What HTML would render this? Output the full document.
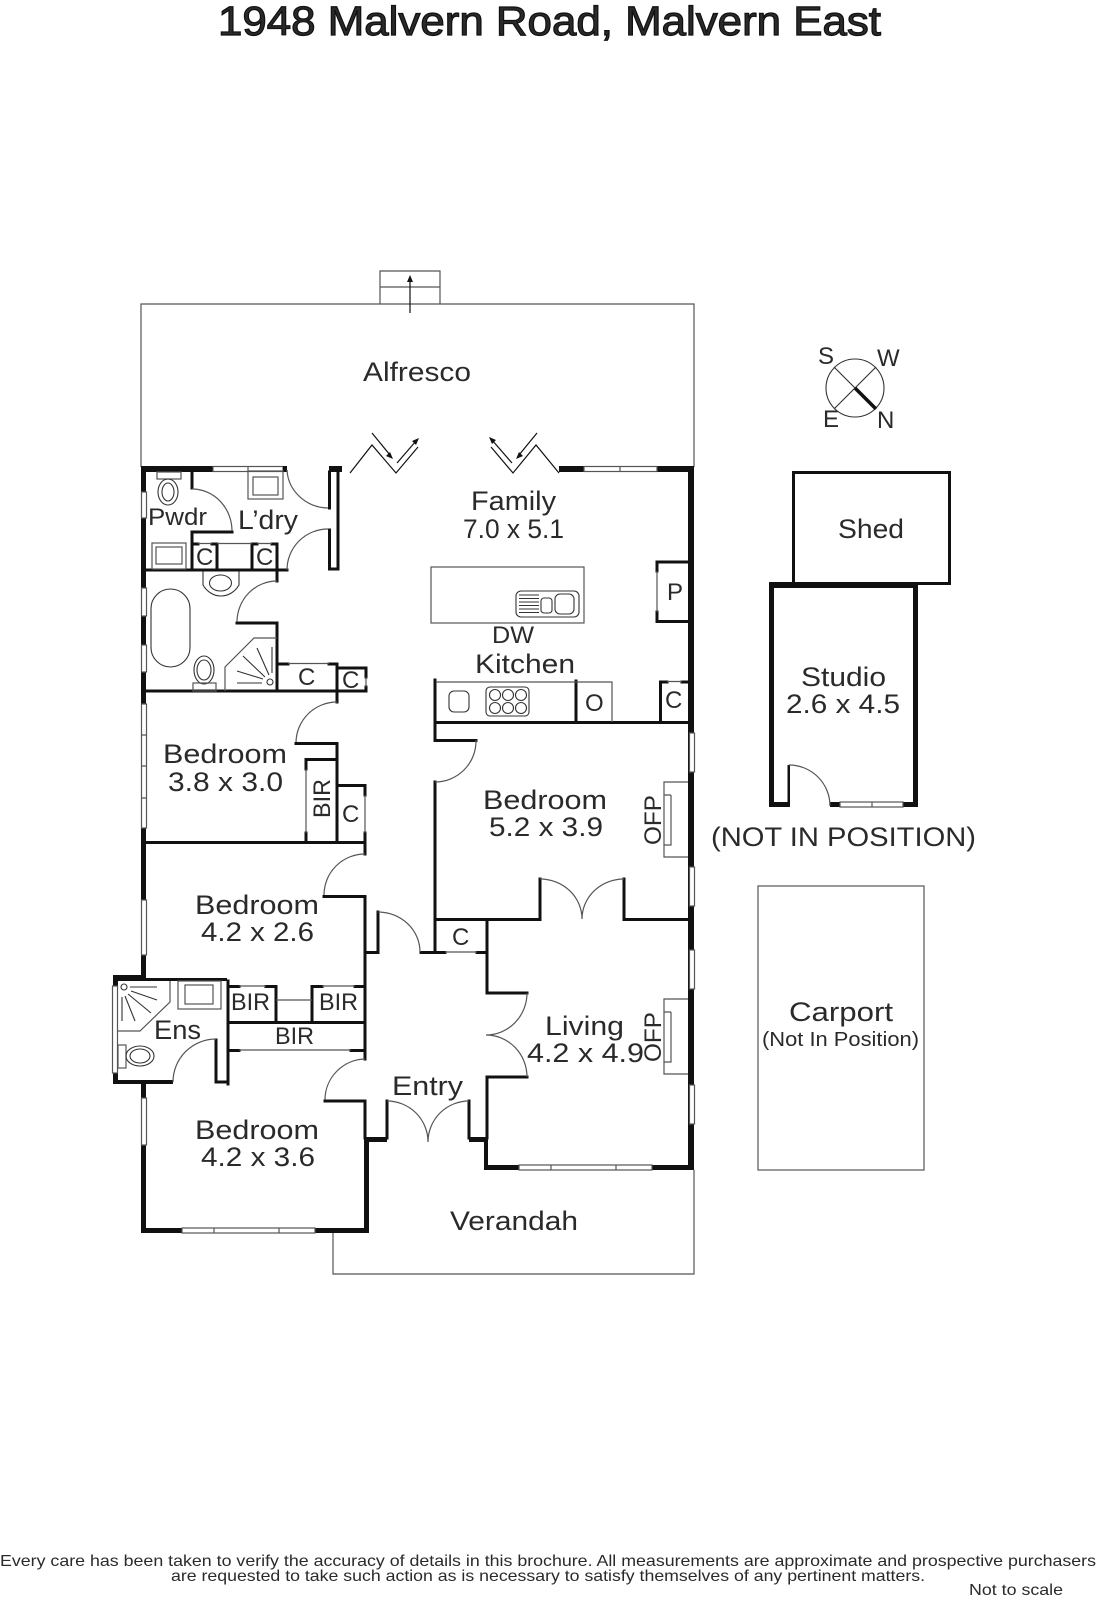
<!DOCTYPE html>
<html><head><meta charset="utf-8"><style>
html,body{margin:0;padding:0;background:#fff}
svg{display:block}
text{font-family:"Liberation Sans",sans-serif;fill:#2a2a2a}
.w{fill:none;stroke:#111;stroke-width:3;stroke-linecap:square}
.b{fill:#111;stroke:none}
.g{fill:none;stroke:#555;stroke-width:1.2}
.f{fill:none;stroke:#333;stroke-width:1.1}
.h{fill:#fff;stroke:#555;stroke-width:1.2}
.a{fill:none;stroke:#111;stroke-width:1.2}
</style></head><body>
<svg width="1096" height="1600" viewBox="0 0 1096 1600" xmlns="http://www.w3.org/2000/svg">
<rect width="1096" height="1600" fill="#fff"/>

<!-- outlines -->
<path class="g" d="M141 467V304H694V467"/>
<path class="g" d="M380 304V271H440V304M380 287H440"/>
<path class="a" d="M410 313V280"/><path class="b" d="M410 275l-3 7h6z"/>
<path class="g" d="M333 1233V1274H694V1170"/>
<rect class="g" x="758" y="886" width="166" height="284"/>

<!-- outer thick walls -->
<rect class="b" x="141" y="466" width="72" height="6"/>
<rect class="b" x="141" y="466" width="5" height="510"/>
<rect class="b" x="559" y="466" width="135" height="6"/>
<rect class="b" x="688" y="466" width="6" height="703"/>
<rect class="b" x="113" y="975" width="33" height="6"/>
<rect class="b" x="146" y="978" width="81" height="3"/>
<rect class="b" x="113" y="975" width="5" height="109"/>
<rect class="b" x="113" y="1080" width="60" height="4"/>
<rect class="b" x="141" y="1084" width="5" height="149"/>
<rect class="b" x="141" y="1228" width="228" height="5"/>
<rect class="b" x="364" y="1137" width="5" height="96"/>
<rect class="b" x="365" y="1137" width="22" height="5"/>
<rect class="b" x="469" y="1137" width="19" height="5"/>
<rect class="b" x="484" y="1137" width="4" height="33"/>
<rect class="b" x="484" y="1165" width="210" height="5"/>

<!-- windows -->
<g>
<rect class="h" x="141.500" y="492" width="5" height="26"/><rect class="h" x="141.500" y="588" width="5" height="28"/>
<rect class="h" x="141.500" y="645" width="5" height="27"/><rect class="h" x="141.500" y="704" width="5" height="124"/>
<path class="g" d="M141 735h5M141 766h5M141 798h5"/>
<rect class="h" x="141.500" y="900" width="5" height="55"/>
<rect class="h" x="141.500" y="1098" width="5" height="47"/>
<rect class="h" x="112.500" y="986" width="5" height="87"/>
<rect class="h" x="182" y="1228" width="133" height="5"/><path class="g" d="M214 1228v5M279 1228v5"/>
<rect class="h" x="519" y="1165" width="133" height="5"/><path class="g" d="M551 1165v5M616 1165v5"/>
<rect class="h" x="584" y="466.500" width="73" height="5"/><path class="g" d="M620 466v6"/>
<rect class="h" x="689.500" y="733" width="5" height="39"/><rect class="h" x="689.500" y="867" width="5" height="39"/>
<rect class="h" x="689.500" y="950" width="5" height="39"/><rect class="h" x="689.500" y="1085" width="5" height="39"/>
<rect class="h" x="213" y="466.500" width="70" height="5"/><path class="g" d="M248 466v6"/>
<rect class="b" x="283" y="466" width="4" height="6"/>
</g>

<!-- fireplaces -->
<path class="g" d="M688 782H664V857H688M671 795H664V845H671V795"/>
<path class="g" d="M688 999H664V1074H688M671 1012H664V1062H671V1012"/>

<!-- interior walls -->
<path class="w" d="M147 570H287"/>
<path class="w" d="M192 472V488M232 532H192V570M277 570V581M237 623H277V691"/>
<path class="g" d="M192 489A40 42 0 0 1 232 531M287 470A42 40 0 0 0 328 508M328 529A41 41 0 0 0 287 570M277 581A40 41 0 0 0 237 622"/>
<path class="w" d="M329.500 472V508M329.500 530V569H338V472"/>
<rect class="b" x="329" y="466" width="13" height="6"/>
<!-- Ldry cupboards -->
<path class="w" d="M193 544H198M212 544H217V570M252 570V544H257M272 544H277V570"/>
<path class="g" d="M198 543.500H212M217 543.500H252M257 543.500H272"/>
<!-- bath closets -->
<path class="w" d="M147 691H366M278 664H288M329 664H337V702M337 668H366V677M366 687V691"/>
<path class="g" d="M288 663.500H329M366 677V687"/>
<path class="g" d="M337 702A41 41 0 0 0 296 743"/>
<path class="w" d="M296 743.500H337V842"/>
<path class="w" d="M306 759.500H337M306 760V769M306 833V842M337 785.500H365V795M365 833V854M147 842.500H365"/>
<path class="g" d="M306 769V833M365 795V833"/>
<path class="g" d="M365 854A41 41 0 0 0 324 895"/>
<path class="w" d="M324 896.500H365V1059"/>
<path class="w" d="M228 986.500H239M266 986.500H276V1022M312 1022V986.500H322M355 986.500H365M228 981V1084M228 1022.500H365M228 1050.500H239M351 1050.500H365"/>
<path class="g" d="M239 986H266M322 986H355M276 1000H312M239 1050H351"/>
<path class="w" d="M216 1082V1040M227 1082H216"/>
<path class="g" d="M216 1039A43 43 0 0 0 173 1082"/>
<path class="g" d="M365 1059A41 41 0 0 0 325 1100"/>
<path class="w" d="M325 1101H365V1138"/>
<path class="w" d="M387 1101V1138M469 1101V1138"/>
<path class="g" d="M387 1101A41 41 0 0 1 428 1142M469 1101A41 41 0 0 0 428 1142"/>
<path class="w" d="M487 1077H527M487 1077V1138M527 993H487V920"/>
<path class="g" d="M527 993A41 42 0 0 1 486 1035A41 42 0 0 1 527 1077"/>
<path class="w" d="M435 782V952M435 919.500H540V879M624 879V919.500H688"/>
<path class="g" d="M540 879A42 40 0 0 1 582 919M624 879A42 40 0 0 0 582 919"/>
<path class="w" d="M366 952.500H378V912M421 952.500H445M477 952.500H487"/>
<path class="g" d="M378 912A42 40 0 0 1 420 952M445 952H477"/>
<path class="w" d="M435 680V740.500H476"/>
<path class="g" d="M476 740A41 41 0 0 1 435 782"/>
<path class="w" d="M435 722.500H688M576 681V722M660.500 722V682H667M682 682H688M657 562H688M657 621.500H688M657 562V571M657 612V621"/>
<path class="g" d="M657 571V612M667 681.500H682M436 682H612V722"/>

<!-- island + sink -->
<rect class="g" x="431" y="567" width="153" height="56"/>
<rect class="f" x="516" y="591" width="63" height="26" rx="5"/>
<rect class="f" x="541" y="598" width="11" height="15" rx="3"/>
<rect class="f" x="555" y="594" width="19" height="20" rx="5"/>
<path class="f" d="M519 595H539M519 598.500H539M519 602H539M519 605.500H539M519 609H539M519 612.500H539"/>
<!-- cooktop -->
<rect class="f" x="449" y="691" width="20" height="21" rx="5"/>
<rect class="f" x="486" y="687" width="43" height="29" rx="4"/>
<g class="f"><circle cx="495" cy="695" r="5.500"/><circle cx="508" cy="695" r="5.500"/><circle cx="521" cy="695" r="5.500"/><circle cx="495" cy="708" r="5.500"/><circle cx="508" cy="708" r="5.500"/><circle cx="521" cy="708" r="5.500"/></g>

<!-- bifold doors -->
<path class="a" d="M350 473L372 445L396 473L418 447"/>
<path class="a" d="M372 433L390 455M397 463L416 441"/>
<path class="b" d="M393 459l-7-3 4-4zM419 438l-7 3 4 4z"/>
<path class="a" d="M559 473L536 445L513 473L491 447"/>
<path class="a" d="M537 433L519 455M512 463L492 440"/>
<path class="b" d="M516 459l7-3-4-4zM489 437l7 3-4 4z"/>

<!-- Pwdr fixtures -->
<rect class="g" x="157" y="472" width="24" height="7"/>
<ellipse class="f" cx="168" cy="492" rx="10" ry="13"/><ellipse class="f" cx="168" cy="492" rx="6" ry="9"/>
<rect class="g" x="152" y="543" width="34" height="26"/><rect class="g" x="156" y="547" width="26" height="17"/>
<rect class="g" x="248" y="471" width="35" height="28"/><rect class="g" x="253" y="477" width="25" height="18"/>
<!-- bath -->
<path class="f" d="M203 571V585C207 592 214 596 221 596C228 596 235 592 239 585V571"/>
<ellipse class="f" cx="220.500" cy="583" rx="11" ry="8"/>
<rect class="f" x="151" y="589" width="39" height="78" rx="19.500"/>
<ellipse class="f" cx="204" cy="670" rx="10" ry="14"/><ellipse class="f" cx="204" cy="670" rx="7" ry="10"/>
<rect class="g" x="193" y="683" width="23" height="8"/>
<path class="g" d="M225 691V667L254 638H277"/>
<circle class="f" cx="270" cy="682" r="3"/>
<path class="f" d="M237 683H262M237 671L263 679M243 656L265 677M257 648L269 675M272 647V673"/>
<!-- Ens -->
<path class="g" d="M170 981V1002L140 1031H118"/>
<circle class="f" cx="124" cy="987" r="3"/>
<path class="f" d="M130 987H157M131 991L157 1000M128 994L151 1013M125 996L135 1021M122 997V1021"/>
<rect class="g" x="178" y="981" width="43" height="28"/><rect class="g" x="185" y="985" width="28" height="19"/>
<rect class="g" x="118" y="1045" width="8" height="23"/>
<ellipse class="f" cx="140" cy="1056" rx="14" ry="10"/><ellipse class="f" cx="140" cy="1056" rx="10" ry="7"/>

<!-- compass -->
<circle class="f" cx="855" cy="388" r="29"/>
<path class="f" d="M834 367L855 388M876 367L834 409"/>
<path stroke="#111" stroke-width="3.500" fill="none" d="M855 388L876 409"/>

<!-- Shed + Studio -->
<rect x="793.500" y="472.500" width="156" height="111" fill="none" stroke="#111" stroke-width="3"/>
<rect class="b" x="769" y="582" width="149" height="6"/>
<rect class="b" x="769" y="582" width="5" height="225"/>
<rect class="b" x="913" y="582" width="5" height="225"/>
<rect class="b" x="769" y="802" width="20" height="5"/>
<rect class="b" x="830" y="802" width="88" height="5"/>
<rect class="b" x="787.500" y="765" width="2.500" height="42"/>
<path class="g" d="M789 765A41 41 0 0 1 830 806"/>
<rect class="h" x="840" y="802" width="63" height="5"/><path class="g" d="M872 802v5"/>

<!-- labels -->
<text x="218" y="35" font-size="41" stroke="#111" stroke-width="1.200" textLength="663" lengthAdjust="spacingAndGlyphs">1948 Malvern Road, Malvern East</text>
<g font-size="27">
<text x="363" y="381" textLength="108" lengthAdjust="spacingAndGlyphs">Alfresco</text>
<text x="471" y="510" textLength="85" lengthAdjust="spacingAndGlyphs">Family</text>
<text x="463" y="538" textLength="101" lengthAdjust="spacingAndGlyphs">7.0 x 5.1</text>
<text x="475" y="673" textLength="100" lengthAdjust="spacingAndGlyphs">Kitchen</text>
<text x="238" y="529" textLength="60" lengthAdjust="spacingAndGlyphs">L’dry</text>
<text x="163" y="763" textLength="124" lengthAdjust="spacingAndGlyphs">Bedroom</text>
<text x="168" y="791" textLength="115" lengthAdjust="spacingAndGlyphs">3.8 x 3.0</text>
<text x="195" y="914" textLength="124" lengthAdjust="spacingAndGlyphs">Bedroom</text>
<text x="201" y="941" textLength="113" lengthAdjust="spacingAndGlyphs">4.2 x 2.6</text>
<text x="483" y="809" textLength="124" lengthAdjust="spacingAndGlyphs">Bedroom</text>
<text x="489" y="836" textLength="114" lengthAdjust="spacingAndGlyphs">5.2 x 3.9</text>
<text x="545" y="1035" textLength="79" lengthAdjust="spacingAndGlyphs">Living</text>
<text x="527" y="1062" textLength="117" lengthAdjust="spacingAndGlyphs">4.2 x 4.9</text>
<text x="392" y="1095" textLength="71" lengthAdjust="spacingAndGlyphs">Entry</text>
<text x="195" y="1139" textLength="124" lengthAdjust="spacingAndGlyphs">Bedroom</text>
<text x="201" y="1166" textLength="114" lengthAdjust="spacingAndGlyphs">4.2 x 3.6</text>
<text x="450" y="1230" textLength="128" lengthAdjust="spacingAndGlyphs">Verandah</text>
<text x="154" y="1039" textLength="47" lengthAdjust="spacingAndGlyphs">Ens</text>
<text x="838" y="538" textLength="66" lengthAdjust="spacingAndGlyphs">Shed</text>
<text x="801" y="686" textLength="85" lengthAdjust="spacingAndGlyphs">Studio</text>
<text x="786" y="713" textLength="114" lengthAdjust="spacingAndGlyphs">2.6 x 4.5</text>
<text x="711" y="846" textLength="265" lengthAdjust="spacingAndGlyphs">(NOT IN POSITION)</text>
<text x="789" y="1021" textLength="104" lengthAdjust="spacingAndGlyphs">Carport</text>
</g>
<g font-size="24">
<text x="148" y="525" textLength="59" lengthAdjust="spacingAndGlyphs">Pwdr</text>
<text x="492" y="643" textLength="42" lengthAdjust="spacingAndGlyphs">DW</text>
<text x="667" y="600">P</text>
<text x="665" y="708">C</text>
<text x="585" y="711">O</text>
<text x="196" y="565">C</text>
<text x="256" y="565">C</text>
<text x="298" y="685">C</text>
<text x="342" y="688">C</text>
<text x="342" y="822">C</text>
<text x="452" y="945">C</text>
<text x="231" y="1010" textLength="39" lengthAdjust="spacingAndGlyphs">BIR</text>
<text x="319" y="1010" textLength="39" lengthAdjust="spacingAndGlyphs">BIR</text>
<text x="275" y="1044" textLength="39" lengthAdjust="spacingAndGlyphs">BIR</text>
<text transform="translate(330 818) rotate(-90)" textLength="39" lengthAdjust="spacingAndGlyphs">BIR</text>
<text transform="translate(661 845) rotate(-90)" textLength="50" lengthAdjust="spacingAndGlyphs">OFP</text>
<text transform="translate(661 1062) rotate(-90)" textLength="50" lengthAdjust="spacingAndGlyphs">OFP</text>
<text x="818" y="364">S</text>
<text x="877" y="366">W</text>
<text x="823" y="427">E</text>
<text x="877" y="428">N</text>
</g>
<text x="762" y="1046" font-size="20" textLength="157" lengthAdjust="spacingAndGlyphs">(Not In Position)</text>
<g font-size="16">
<text x="0" y="1566" textLength="1096" lengthAdjust="spacingAndGlyphs">Every care has been taken to verify the accuracy of details in this brochure.  All measurements are approximate and prospective purchasers</text>
<text x="171" y="1581" textLength="754" lengthAdjust="spacingAndGlyphs">are requested to take such action as is necessary to satisfy themselves of any pertinent matters.</text>
<text x="969" y="1595" textLength="94" lengthAdjust="spacingAndGlyphs">Not to scale</text>
</g>
</svg>
</body></html>
